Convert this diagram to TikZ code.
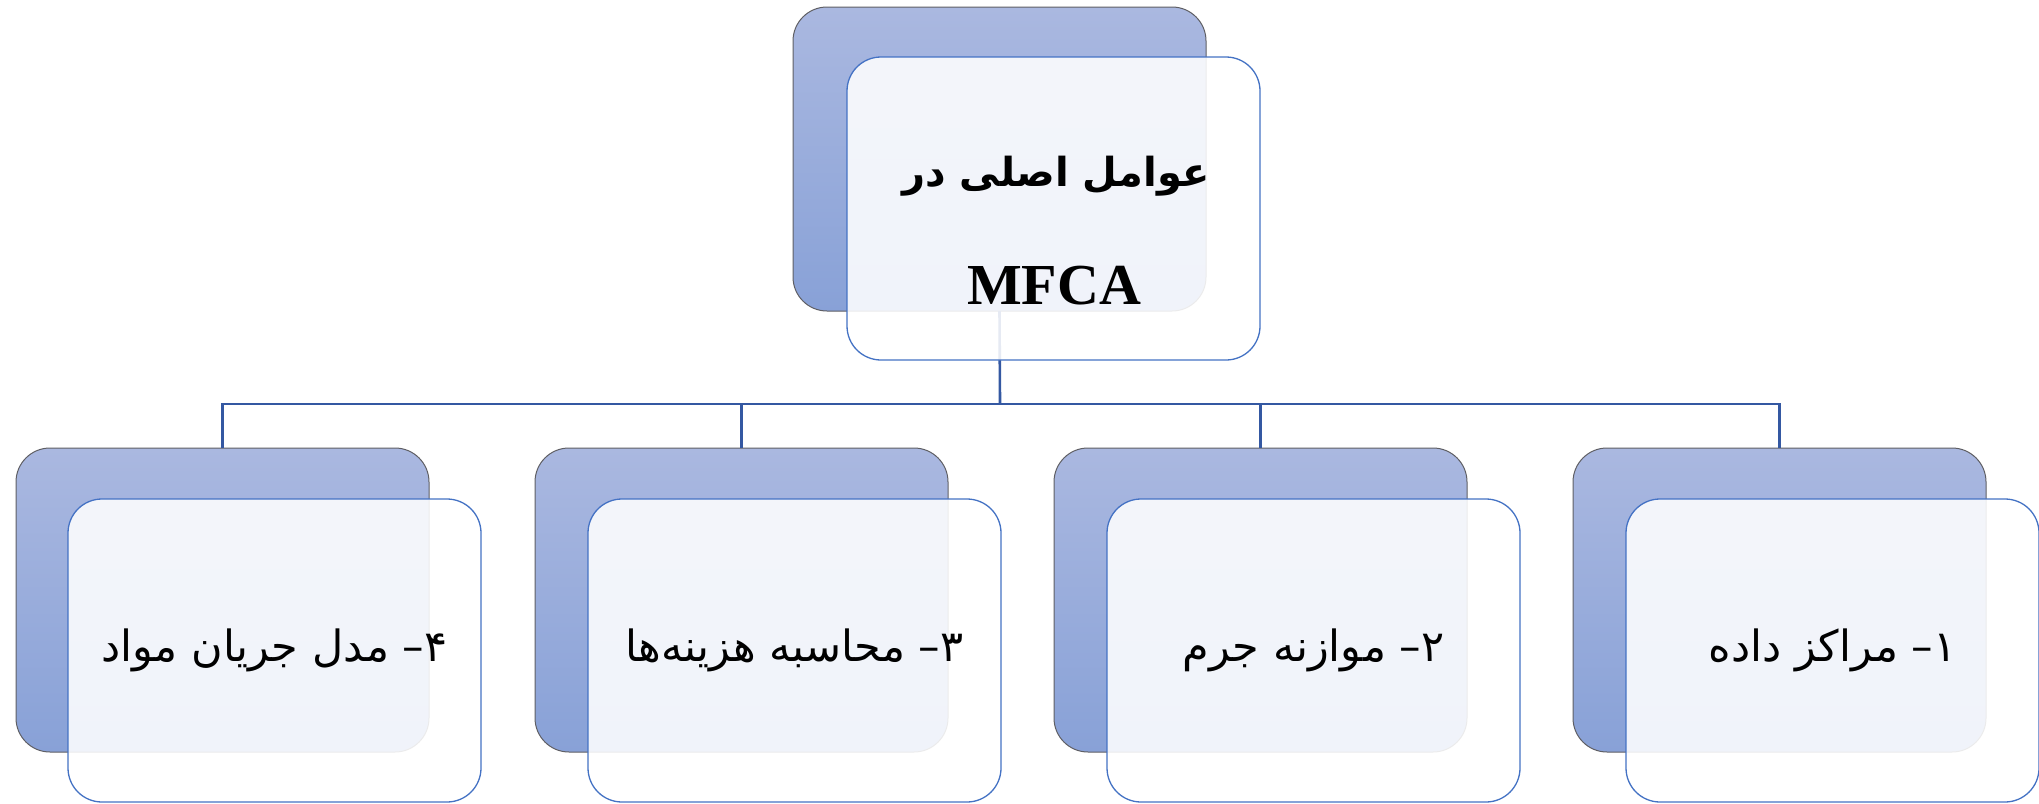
\documentclass[tikz,border=0pt]{standalone}
\usepackage{fontspec}
\setmainfont{Liberation Serif}
\newfontfamily\arabicfont[Script=Arabic]{DejaVu Sans}
\TeXXeTstate=1
\definecolor{backtop}{RGB}{170,184,224}
\definecolor{backbot}{RGB}{136,161,215}
\definecolor{backedge}{RGB}{95,95,100}
\definecolor{frontedge}{RGB}{68,114,196}
\definecolor{busline}{RGB}{52,88,162}
\tikzset{
  backbox/.style={rectangle, rounded corners=34pt, minimum width=413pt, minimum height=304pt,
    anchor=north west, inner sep=0pt, outer sep=0pt, draw=backedge, line width=1pt,
    top color=backtop, bottom color=backbot},
  frontbox/.style={rectangle, rounded corners=34pt, minimum width=413pt, minimum height=303pt,
    anchor=north west, inner sep=0pt, outer sep=0pt, draw=frontedge, line width=1.3pt,
    fill=white, fill opacity=0.88, text opacity=1},
  conn/.style={draw=busline, line width=2.6pt},
  itemtext/.style={font=\arabicfont\fontsize{43}{48}\selectfont, text=black},
  titletext/.style={font=\bfseries\fontsize{58}{64}\selectfont, text=black},
  titlearabic/.style={font=\arabicfont\bfseries\fontsize{40}{48}\selectfont, text=black}
}
\begin{document}
\begin{tikzpicture}[x=1pt, y=-1pt]
\useasboundingbox (0,0) rectangle (2039,803);
\fill[white] (0,0) rectangle (2039,803);

% back panels
\node[backbox] (topback) at (793,7) {};
\node[backbox] (b4back) at (16,448) {};
\node[backbox] (b3back) at (535,448) {};
\node[backbox] (b2back) at (1054,448) {};
\node[backbox] (b1back) at (1573,448) {};

% tree connectors
\coordinate (hub) at (1000,404);
\draw[conn] (topback.south) -- (hub);
\draw[conn] (hub) -| (b4back.north);
\draw[conn] (hub) -| (b3back.north);
\draw[conn] (hub) -| (b2back.north);
\draw[conn] (hub) -| (b1back.north);

% front panels
\node[frontbox] (topfront) at (847,57) {};
\node[frontbox] (b4front) at (68,499) {};
\node[frontbox] (b3front) at (588,499) {};
\node[frontbox] (b2front) at (1107,499) {};
\node[frontbox] (b1front) at (1626,499) {};

% labels
\node[titlearabic] (title1) at (1056,176) {\beginR عوامل اصلی در\endR};
\node[titletext] (title2) at (1054,286) {MFCA};
\node[itemtext] (t4) at (b4front.center) {\beginR ۴– مدل جریان مواد\endR};
\node[itemtext] (t3) at (b3front.center) {\beginR ۳– محاسبه هزینه‌ها\endR};
\node[itemtext] (t2) at (b2front.center) {\beginR ۲– موازنه جرم\endR};
\node[itemtext] (t1) at (b1front.center) {\beginR ۱– مراکز داده\endR};
\end{tikzpicture}
\end{document}
